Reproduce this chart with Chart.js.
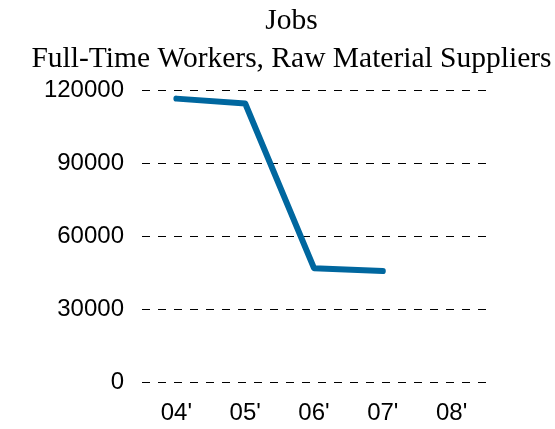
<!DOCTYPE html>
<html>
<head>
<meta charset="utf-8">
<script src="https://cdn.jsdelivr.net/npm/chart.js@4"></script>
<style>
  html, body { margin: 0; padding: 0; background: #fff; }
  #wrap { width: 555px; height: 429px; }
</style>
</head>
<body>
<div id="wrap"><canvas id="jobsChart" width="555" height="429"></canvas></div>
<script>
const years = ["04'", "05'", "06'", "07'", "08'"];
const jobs = [116500, 114500, 46800, 45600, null];
const yTicks = [0, 30000, 60000, 90000, 120000];

const ctx = document.getElementById('jobsChart').getContext('2d');
new Chart(ctx, {
    type: 'line',
    data: {
        labels: years,
        datasets: [{
            data: jobs,
            borderColor: '#00679f',
            borderWidth: 6,
            borderCapStyle: 'round',
            borderJoinStyle: 'round',
            pointRadius: 0,
            tension: 0,
            fill: false
        }]
    },
    options: {
        responsive: false,
        animation: false,
        layout: { padding: { left: 28, right: 0, top: 2, bottom: 4 } },
        plugins: {
            legend: { display: false },
            tooltip: { enabled: false },
            title: {
                display: true,
                text: ['Jobs', 'Full-Time Workers, Raw Material Suppliers'],
                color: '#000',
                font: { family: 'Liberation Serif', size: 29.5, weight: 'normal', lineHeight: 1.29 },
                padding: { top: 0, bottom: 12 }
            }
        },
        scales: {
            x: {
                offset: true,
                grid: { display: false },
                border: { display: false },
                afterFit: axis => { axis.height = 43; },
                ticks: {
                    color: '#000',
                    font: { family: 'Liberation Sans', size: 24 },
                    padding: 9,
                    maxRotation: 0
                }
            },
            y: {
                min: 0,
                max: 120000,
                afterBuildTicks: axis => { axis.ticks = yTicks.map(v => ({ value: v })); },
                afterFit: axis => { axis.width = 114; },
                grid: { color: '#000', lineWidth: 1, drawTicks: false },
                border: { display: false, dash: [8, 8] },
                ticks: {
                    color: '#000',
                    font: { family: 'Liberation Sans', size: 24 },
                    padding: 18,
                    callback: v => String(v)
                }
            },
            // empty right-hand axis that only reserves the blank margin
            yRight: {
                type: 'linear',
                position: 'right',
                afterFit: axis => { axis.width = 69; },
                grid: { display: false },
                border: { display: false },
                ticks: { display: false }
            }
        }
    }
});
</script>
</body>
</html>
